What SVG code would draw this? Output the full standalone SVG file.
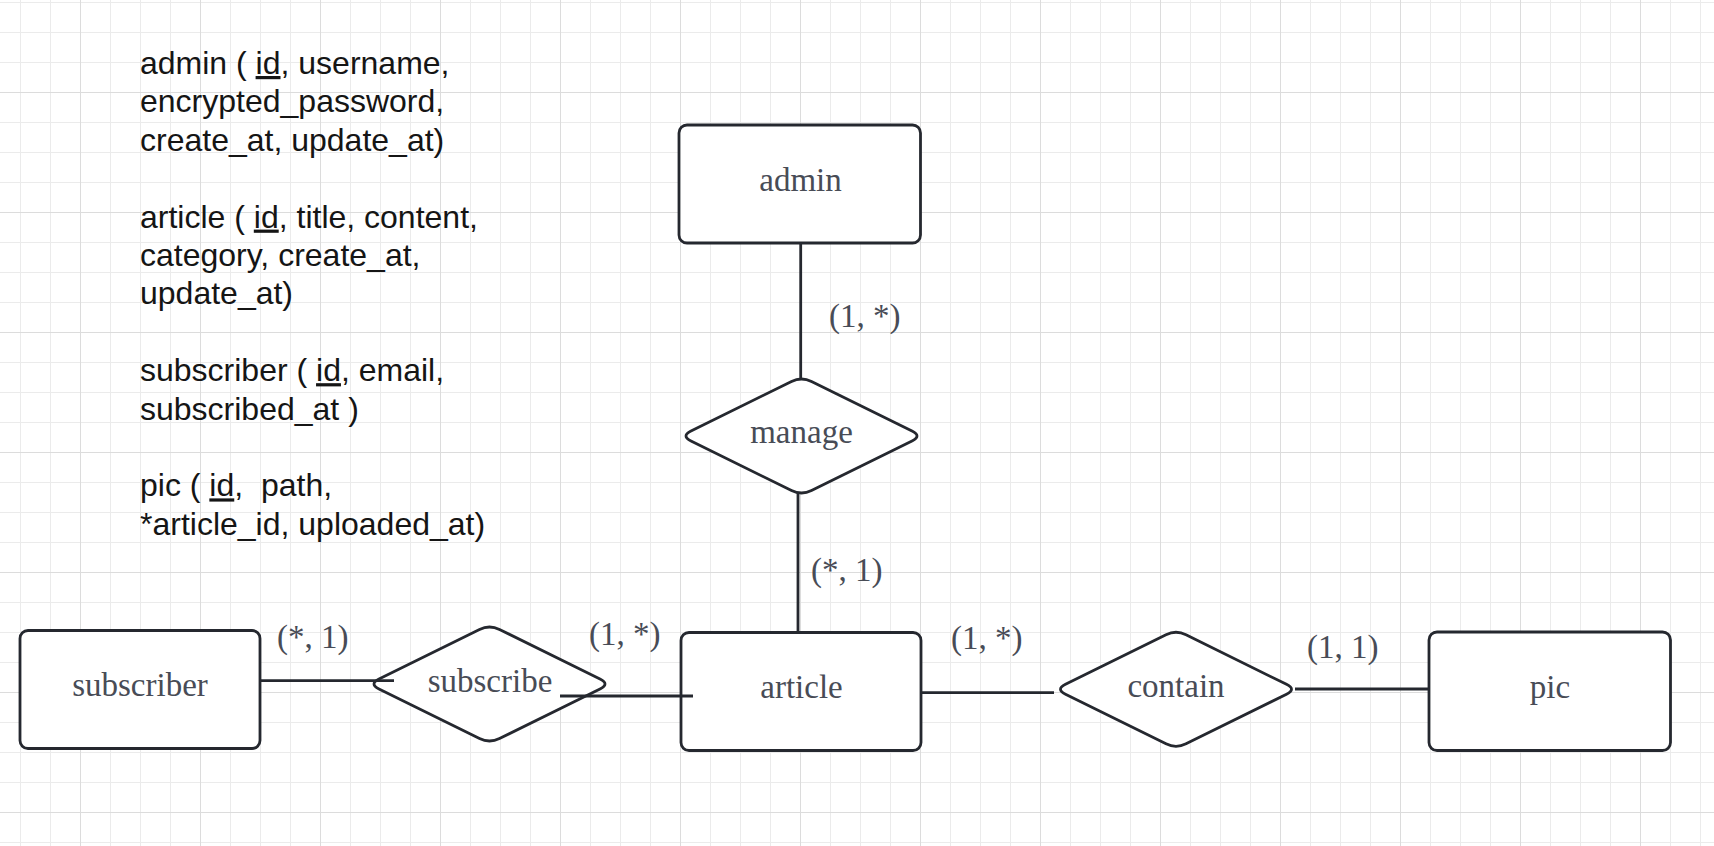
<svg xmlns="http://www.w3.org/2000/svg" xmlns:xlink="http://www.w3.org/1999/xlink" width="1714" height="846" viewBox="0 0 1714 846">
<style>
.box{fill:#ffffff;stroke:#25282f;stroke-width:2.8}
.conn{fill:none;stroke:#25282f;stroke-width:2.8}
.name{font-family:"Liberation Serif","Times New Roman",serif;font-size:33px;fill:#484c56;text-anchor:middle}
.card{font-family:"Liberation Serif","Times New Roman",serif;font-size:33px;fill:#484c56}
.schema{font-family:"Liberation Sans",Arial,sans-serif;font-size:32px;fill:#151515;white-space:pre}
.u{text-decoration:underline}
</style>
<defs>
<pattern id="minor" patternUnits="userSpaceOnUse" x="20" y="2" width="30" height="30">
<path d="M0.5,0 V30 M0,0.5 H30" stroke="#ebebeb" stroke-width="1" fill="none"/>
</pattern>
<pattern id="major" patternUnits="userSpaceOnUse" x="80" y="92" width="120" height="120">
<path d="M0.5,0 V120 M0,0.5 H120" stroke="#dcdcdc" stroke-width="1" fill="none"/>
</pattern>
<path id="dia" class="box" d="M-110.5,-4.94 L-10,-54.56 Q0,-59.5 10,-54.56 L110.5,-4.94 Q120.5,0 110.5,4.94 L10,54.56 Q0,59.5 -10,54.56 L-110.5,4.94 Q-120.5,0 -110.5,-4.94 Z"/>
</defs>
<rect width="1714" height="846" fill="#ffffff"/>
<rect width="1714" height="846" fill="url(#minor)"/>
<rect width="1714" height="846" fill="url(#major)"/>

<g id="schema-text">
<text class="schema" x="140" y="74">admin ( <tspan class="u">id</tspan>, username,</text>
<text class="schema" x="140" y="112.4">encrypted_password,</text>
<text class="schema" x="140" y="150.8">create_at, update_at)</text>
<text class="schema" x="140" y="227.6">article ( <tspan class="u">id</tspan>, title, content,</text>
<text class="schema" x="140" y="266">category, create_at,</text>
<text class="schema" x="140" y="304.4">update_at)</text>
<text class="schema" x="140" y="381.2">subscriber ( <tspan class="u">id</tspan>, email,</text>
<text class="schema" x="140" y="419.6">subscribed_at )</text>
<text class="schema" x="140" y="496.4">pic ( <tspan class="u">id</tspan>,  path,</text>
<text class="schema" x="140" y="534.8">*article_id, uploaded_at)</text>
</g>

<g id="admin">
<rect class="box" x="679" y="125" width="241.5" height="118" rx="8"/>
<text class="name" x="800.5" y="190.7">admin</text>
</g>
<g id="manage">
<use xlink:href="#dia" x="801.5" y="436"/>
<text class="name" x="801.5" y="443.3">manage</text>
</g>
<g id="article">
<rect class="box" x="681" y="632.5" width="240" height="118" rx="8"/>
<text class="name" x="801.5" y="698.3">article</text>
</g>
<g id="subscriber">
<rect class="box" x="20" y="630.5" width="240" height="118" rx="8"/>
<text class="name" x="140" y="695.5">subscriber</text>
</g>
<g id="subscribe">
<use xlink:href="#dia" x="489.5" y="684"/>
<text class="name" x="490" y="691.7">subscribe</text>
</g>
<g id="contain">
<use xlink:href="#dia" x="1176" y="689.3"/>
<text class="name" x="1176" y="696.7">contain</text>
</g>
<g id="pic">
<rect class="box" x="1429" y="632" width="241.5" height="118.5" rx="8"/>
<text class="name" x="1550" y="698">pic</text>
</g>

<g id="connectors">
<path class="conn" d="M800.7,243 V379"/>
<path class="conn" d="M798,493 V632.5"/>
<path class="conn" d="M260,680.7 H394"/>
<path class="conn" d="M560,696 H693"/>
<path class="conn" d="M921,692.7 H1054"/>
<path class="conn" d="M1295,689 H1429"/>
<text class="card" x="829" y="327">(1, *)</text>
<text class="card" x="811" y="581">(*, 1)</text>
<text class="card" x="277" y="647.5">(*, 1)</text>
<text class="card" x="589" y="645">(1, *)</text>
<text class="card" x="951" y="649">(1, *)</text>
<text class="card" x="1307" y="658">(1, 1)</text>
</g>
</svg>
